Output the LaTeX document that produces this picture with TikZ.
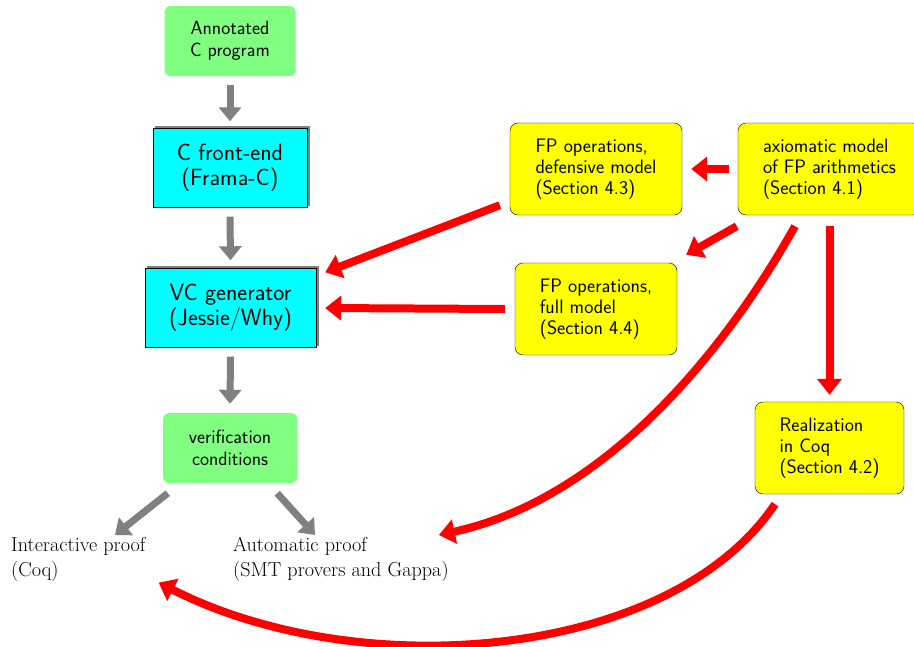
\documentclass[tikz,border=0pt]{standalone}
\usepackage{fontspec}
\usetikzlibrary{arrows.meta,shadows,calc}
\definecolor{boxcyan}{RGB}{0,255,255}
\definecolor{boxyellow}{RGB}{255,255,0}
\definecolor{boxgreen}{RGB}{128,255,128}
\definecolor{arrgray}{RGB}{128,128,128}
\definecolor{arrred}{RGB}{255,0,0}
\begin{document}
\begin{tikzpicture}[x=1pt,y=-1pt,
 greenbox/.style={fill=boxgreen, rounded corners=6pt, minimum height=70pt, align=center, font=\sffamily\fontsize{19.2}{22}\selectfont},
 cyanbox/.style={fill=boxcyan, draw=black, minimum height=79pt, align=center, font=\sffamily\fontsize{23.5}{25}\selectfont, general shadow={shadow xshift=2.5pt, shadow yshift=2.5pt, fill=arrgray, draw=arrgray}},
 ybox/.style={fill=boxyellow, draw=black, rounded corners=8pt, minimum height=92pt, align=left, font=\sffamily\fontsize{19.5}{21}\selectfont},
 plain/.style={align=left, inner sep=0pt, anchor=north west, font=\rmfamily\fontsize{20.2}{25}\selectfont},
 garrow/.style={draw=arrgray, line width=7pt, -{Triangle[length=14pt,width=22pt]}},
 rarrow/.style={draw=arrred, line width=8pt, -{Triangle[length=16pt,width=24pt]}}
]
\useasboundingbox (0,0) rectangle (914,646);
\clip (0,0) rectangle (914,646);

\node[greenbox, minimum width=131pt] (ann) at (230,41) {Annotated\\C program};
\node[cyanbox, minimum width=154pt] (fe) at (230,168) {C front-end\\(Frama-C)};
\node[cyanbox, minimum width=171pt] (vcg) at (230.5,308) {VC generator\\(Jessie/Why)};
\node[greenbox, minimum width=134pt] (vc) at (230,448) {verification\\conditions};
\node[plain] (inter) at (11,537) {Interactive proof\\(Coq)};
\node[plain] (auto) at (233,537) {Automatic proof\\(SMT provers and Gappa)};

\node[ybox, minimum width=172pt] (def) at (596,169) {FP operations,\\defensive model\\(Section 4.3)};
\node[ybox, minimum width=183pt] (ax) at (829.5,169) {axiomatic model\\of FP arithmetics\\(Section 4.1)};
\node[ybox, minimum width=162pt] (full) at (596,309) {FP operations,\\full model\\(Section 4.4)};
\node[ybox, minimum width=149pt] (real) at (829.5,448) {Realization\\in Coq\\(Section 4.2)};

\draw[garrow] ([yshift=-9pt]ann.south) -- ([yshift=7pt]fe.north);
\draw[garrow] ([yshift=-9pt]fe.south) -- ([yshift=8pt]vcg.north);
\draw[garrow] ([yshift=-9pt]vcg.south) -- ([yshift=9pt]vc.north);
\draw[garrow] ([shift={(5,10)}]vc.south west) -- ([shift={(104,-2)}]inter.north west);
\draw[garrow] ([shift={(-20,10)}]vc.south east) -- ([shift={(82,-2)}]auto.north west);

\draw[rarrow] ([xshift=-9pt]ax.west) -- ([xshift=9pt]def.east);
\draw[rarrow] ([shift={(-1,11)}]ax.south west) -- ([shift={(9,-8)}]full.north east);
\draw[rarrow] ([yshift=-11pt]ax.south) -- ([yshift=7pt]real.north);
\draw[rarrow] ([shift={(-34.5,11)}]ax.south) .. controls (720,360) and (600,500) .. ([shift={(-10,-2)}]auto.north east);
\draw[rarrow] ([shift={(-10,-10)}]def.south west) -- ([shift={(9,4)}]vcg.north east);
\draw[rarrow] ([xshift=-10pt]full.west) -- ([xshift=9pt]vcg.east);
\draw[rarrow] ([shift={(-54.5,10)}]real.south) .. controls (670,660) and (360,685) .. ([shift={(13,1)}]inter.south east);
\end{tikzpicture}
\end{document}
